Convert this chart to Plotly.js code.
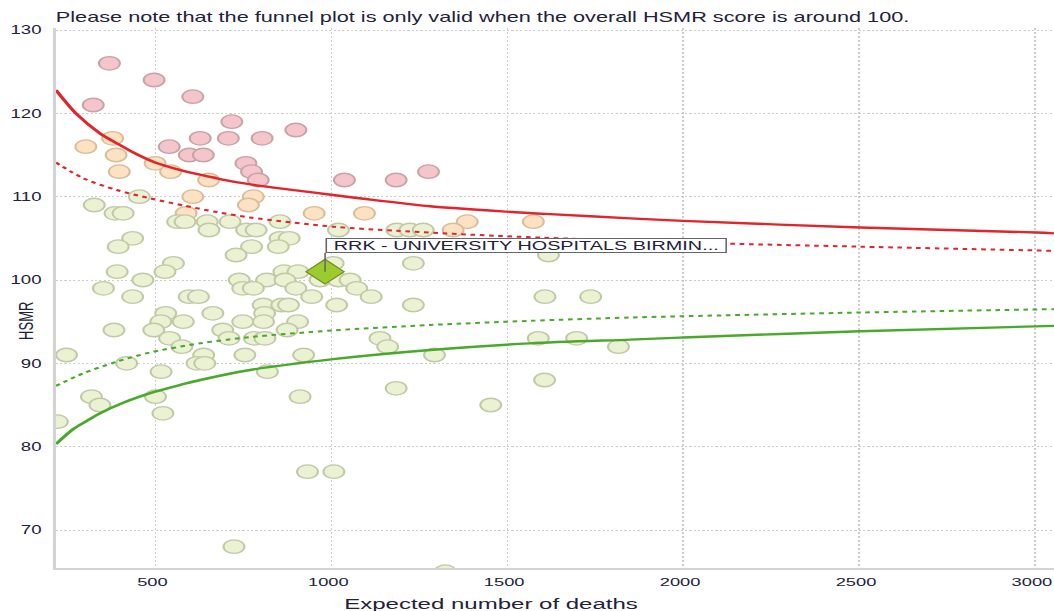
<!DOCTYPE html>
<html>
<head>
<meta charset="utf-8">
<script src="https://cdn.plot.ly/plotly-3.0.1.min.js"></script>
<style>
  html, body { margin: 0; padding: 0; background: #ffffff; overflow: hidden; }
  #wrap { width: 1054px; height: 611px; overflow: hidden; }
  #chart { width: 680px; height: 611px; transform: scaleX(1.55); transform-origin: 0 0; }
</style>
</head>
<body>
<div id="wrap"><div id="chart"></div></div>
<script>
// ---- Data ----
// Trusts above the 99.8% upper limit (pink)
const pinkX = [369, 496, 323, 606, 717, 899, 539, 627, 707, 803, 596, 636, 757, 773, 792, 1037, 1184, 1276];
const pinkY = [126, 124, 121, 122, 119, 118, 116, 117, 117, 117, 115, 115, 114, 113, 112, 112, 112, 113];

// Trusts between the 95% and 99.8% upper limits (peach)
const peachX = [302, 378, 388, 397, 499, 543, 651, 606, 778, 764, 587, 951, 1094, 1386, 1346, 1574];
const peachY = [116, 117, 115, 113, 114, 113, 112, 110, 110, 109, 108, 108, 108, 107, 106, 107];

// Trusts within limits (green)
const greenX = [454, 326, 385, 408, 563, 584, 647, 712, 854,
  652, 759, 786, 1020, 1186, 1223, 1261, 435, 854, 880, 394, 773, 849, 729, 1617,
  551, 1005, 1233, 391, 527, 865, 905, 464, 738, 816, 868, 968, 1020, 1053,
  352, 748, 778, 899, 1072, 435, 596, 622, 944, 1113, 1607, 1737,
  806, 859, 878, 1015, 1233, 529, 663, 810, 515, 579, 748, 807, 904,
  382, 495, 691, 874, 540, 709, 781, 811, 1138, 1588, 1697, 575, 1160, 1816,
  247, 637, 754, 921, 1293, 418, 618, 640, 516, 818, 1606, 1184,
  318, 500, 911, 342, 1453, 521, 221, 932, 1007, 723, 1324];
const greenY = [110, 109, 108, 108, 107, 107, 107, 107, 107,
  106, 106, 106, 106, 106, 106, 106, 105, 105, 105, 104, 104, 104, 103, 103,
  102, 102, 102, 101, 101, 101, 101, 100, 100, 100, 100, 100, 100, 100,
  99, 99, 99, 99, 99, 98, 98, 98, 98, 98, 98, 98,
  97, 97, 97, 97, 97, 96, 96, 96, 95, 95, 95, 95, 95,
  94, 94, 94, 94, 93, 93, 93, 93, 93, 93, 93, 92, 92, 92,
  91, 91, 91, 91, 91, 90, 90, 90, 89, 89, 88, 87,
  86, 86, 86, 85, 85, 84, 83, 77, 77, 68, 65];

// Highlighted trust
const focusName = "RRK - UNIVERSITY HOSPITALS BIRMIN...";
const focusX = [982];
const focusY = [101];

// Control limits
const upper998X = [217, 276, 342, 390, 437, 499, 579, 664, 721, 816, 911, 1005, 1091, 1280, 1498, 1621, 1849, 2000, 2503, 3005, 3054];
const upper998Y = [122.8, 119.9, 117.6, 116.4, 115.3, 114.1, 113.1, 112.3, 111.8, 111.2, 110.7, 110.2, 109.75, 108.85, 108.2, 107.9, 107.4, 107.1, 106.3, 105.7, 105.6];
const upper95X = [217, 295, 390, 484, 579, 674, 769, 1005, 1186, 1470, 2000, 2503, 3054];
const upper95Y = [114.1, 112.2, 110.8, 109.8, 108.95, 108.15, 107.5, 106.4, 105.9, 105.3, 104.5, 104.0, 103.5];
const lower998X = [217, 266, 305, 342, 410, 499, 579, 627, 769, 1005, 1280, 1564, 1849, 2000, 2503, 3054];
const lower998Y = [80.3, 82.1, 83.1, 84.0, 85.3, 86.6, 87.5, 88.0, 89.2, 90.5, 91.6, 92.4, 92.85, 93.1, 93.85, 94.5];
const lower95X = [217, 295, 390, 484, 627, 769, 1005, 1280, 1564, 1849, 2000, 2503, 3054];
const lower95Y = [87.3, 88.8, 90.2, 91.3, 92.4, 93.15, 93.95, 94.6, 95.1, 95.5, 95.65, 96.1, 96.5];

// Axis ticks and texts
const xTickVals = [500, 1000, 1500, 2000, 2500, 3000];
const yTickVals = [70, 80, 90, 100, 110, 120, 130];
const titleText = "Please note that the funnel plot is only valid when the overall HSMR score is around 100.";
const xTitleText = "Expected number of deaths";
const yTitleText = "HSMR";

// ---- Chart ----
const FONT = "Liberation Sans, Arial, Helvetica, sans-serif";
const TXT = "#22223a";
const RED = "#e2242b";
const GREEN = "#48a92b";

function dots(x, y, fill, edge) {
  return {
    type: "scatter", mode: "markers", x: x, y: y, hoverinfo: "x+y",
    marker: { symbol: "circle", size: 13.5, color: fill, line: { color: edge, width: 1.3 } }
  };
}
function limit(x, y, color, dash, width) {
  return {
    type: "scatter", mode: "lines", x: x, y: y, hoverinfo: "skip",
    line: { color: color, width: width, dash: dash, shape: "spline", smoothing: 0.8 }
  };
}

const traces = [
  dots(peachX, peachY, "#fde1c3", "#d9bd98"),
  dots(pinkX, pinkY, "#f4c6cb", "#c8a2a6"),
  dots(greenX, greenY, "#ebf2d4", "#c1c8a5"),
  limit(upper998X, upper998Y, RED, "solid", 2.4),
  limit(upper95X, upper95Y, RED, "dot", 2),
  limit(lower998X, lower998Y, GREEN, "solid", 2.4),
  limit(lower95X, lower95Y, GREEN, "dot", 2),
  {
    type: "scatter", mode: "markers", x: focusX, y: focusY, text: [focusName], hoverinfo: "text",
    marker: { symbol: "diamond", size: 19, color: "#9bcb2c", line: { color: "#6f8f1f", width: 1 } }
  }
];

const layout = {
  width: 680, height: 611,
  margin: { l: 36, r: 0, t: 28, b: 43, pad: 0 },
  paper_bgcolor: "#ffffff", plot_bgcolor: "#ffffff",
  showlegend: false,
  font: { family: FONT, color: TXT, size: 12 },
  title: {
    text: titleText, x: 0, xref: "paper", xanchor: "left",
    y: 1 - 17.5 / 611, yref: "container", yanchor: "middle",
    font: { family: FONT, size: 14, color: TXT }
  },
  xaxis: {
    range: [216.6, 3054], tickmode: "array", tickvals: xTickVals,
    ticks: "outside", ticklen: 2, tickcolor: "rgba(0,0,0,0)",
    ticklabeloverflow: "allow", ticklabelshift: -2,
    showgrid: true, gridcolor: "#cdcdcd", gridwidth: 1, griddash: "2px,2px",
    zeroline: false, showline: true, linecolor: "#d3d3d3", linewidth: 1.6,
    tickfont: { family: FONT, size: 11.8, color: TXT }, fixedrange: true
  },
  yaxis: {
    range: [65.44, 130.24], tickmode: "array", tickvals: yTickVals,
    ticks: "outside", ticklen: 5, tickcolor: "rgba(0,0,0,0)",
    showgrid: true, gridcolor: "#cdcdcd", gridwidth: 1, griddash: "1.4px,1.4px",
    zeroline: false, showline: true, linecolor: "#d3d3d3", linewidth: 1.6,
    tickfont: { family: FONT, size: 12, color: TXT }, fixedrange: true
  },
  annotations: [
    {
      x: focusX[0], y: focusY[0], xref: "x", yref: "y",
      text: focusName, showarrow: true, arrowhead: 0, arrowwidth: 1, arrowcolor: "#666666",
      ax: 0, ay: -19, xanchor: "left", yanchor: "bottom",
      width: 257, height: 13, align: "center", valign: "middle",
      bgcolor: "#ffffff", bordercolor: "#666666", borderwidth: 1, borderpad: 0,
      font: { family: FONT, size: 12.8, color: TXT }
    },
    {
      text: xTitleText, xref: "paper", yref: "paper", x: 0.436, y: -0.066,
      xanchor: "center", yanchor: "middle", showarrow: false,
      font: { family: FONT, size: 15.5, color: TXT }
    },
    {
      text: yTitleText, xref: "paper", yref: "paper", x: -0.030, y: 0.457,
      xanchor: "center", yanchor: "middle", showarrow: false, textangle: -90,
      font: { family: FONT, size: 13, color: TXT }
    }
  ]
};

Plotly.newPlot("chart", traces, layout, { displayModeBar: false, responsive: false });
</script>
</body>
</html>
